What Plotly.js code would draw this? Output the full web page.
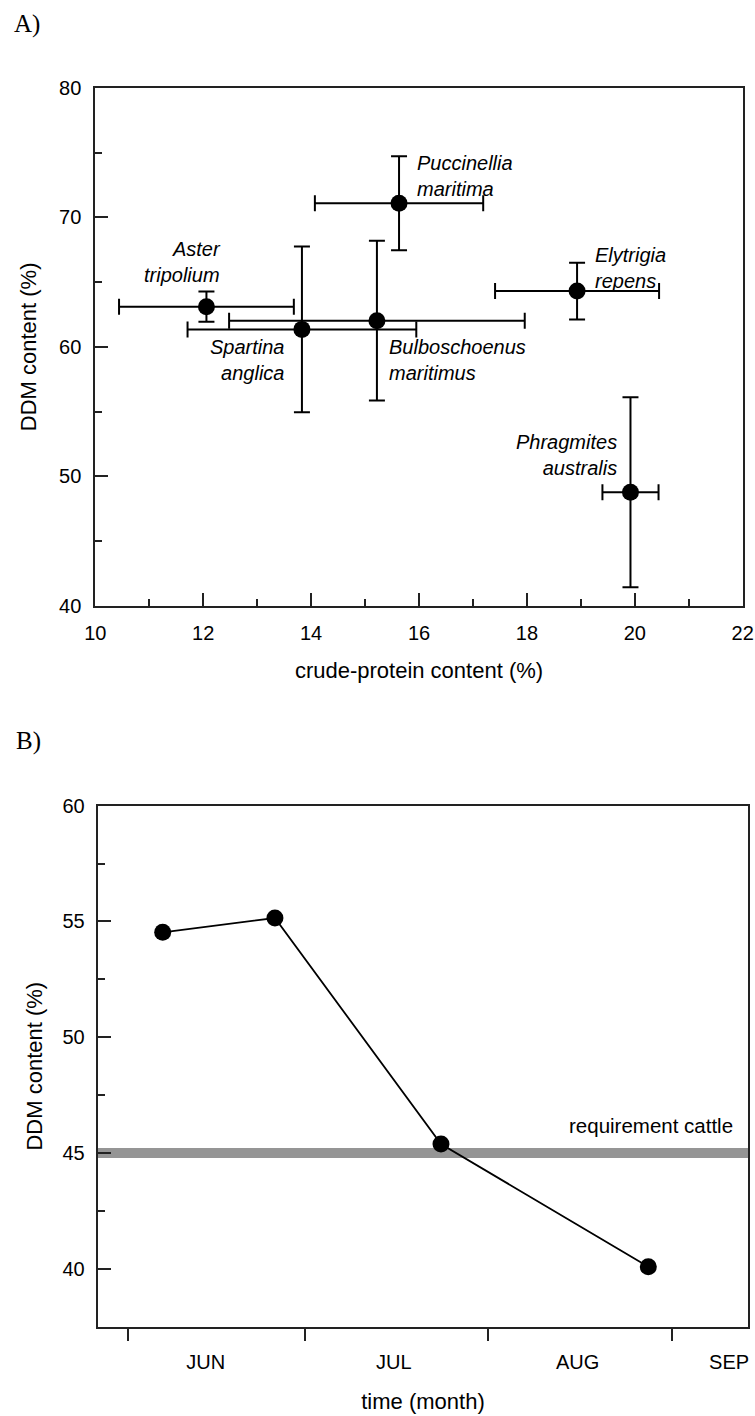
<!DOCTYPE html>
<html>
<head>
<meta charset="utf-8">
<script src="https://cdn.plot.ly/plotly-3.0.1.min.js"></script>
<style>html,body{margin:0;padding:0;background:#fff;}#chart{width:755px;height:1416px;}</style>
</head>
<body>
<div id="chart"></div>
<script>
// ---------- Panel A data ----------
const species = ["Aster<br>tripolium", "Spartina<br>anglica", "Bulboschoenus<br>maritimus", "Puccinellia<br>maritima", "Elytrigia<br>repens", "Phragmites<br>australis"];
const crudeProtein = [12.06, 13.83, 15.22, 15.63, 18.93, 19.92];
const crudeProteinErr = [1.62, 2.12, 2.74, 1.56, 1.52, 0.52];
const ddmA = [63.1, 61.35, 62.02, 71.1, 64.31, 48.76];
const ddmAErr = [1.17, 6.4, 6.17, 3.63, 2.19, 7.34];
// label anchor positions (data units) and alignment
const labelX = [12.37, 13.55, 15.40, 15.93, 19.23, 19.71];
const labelY = [66.55, 58.98, 59.02, 73.2, 66.09, 51.67];
const labelAlign = ["right", "right", "left", "left", "left", "right"];

// ---------- Panel B data ----------
const sampleDay = [5.92, 24.9, 52.98, 88.04]; // days after 1 June
const ddmB = [54.53, 55.15, 45.39, 40.09];
const monthStarts = [0, 30, 61, 92];
const monthLabelPos = [13.2, 45.0, 76.1, 101.7];
const monthLabels = ["JUN", "JUL", "AUG", "SEP"];
const requirementCattle = 45;

const FONT = "Liberation Sans, Arial, Helvetica, sans-serif";
const W = 755, H = 1416;
const LW = 2;

const traces = [
  {
    type: "scatter", mode: "markers", x: crudeProtein, y: ddmA,
    xaxis: "x", yaxis: "y",
    marker: {color: "#000", size: 17},
    error_x: {type: "data", array: crudeProteinErr, visible: true, color: "#000", thickness: LW, width: 8},
    error_y: {type: "data", array: ddmAErr, visible: true, color: "#000", thickness: LW, width: 8},
    hoverinfo: "skip", showlegend: false
  },
  {
    type: "scatter", mode: "lines+markers", x: sampleDay, y: ddmB,
    xaxis: "x2", yaxis: "y2",
    line: {color: "#000", width: 1.8},
    marker: {color: "#000", size: 17},
    hoverinfo: "skip", showlegend: false
  },
  {
    type: "scatter", mode: "markers", x: [monthStarts[0]], y: [ddmB[0]],
    xaxis: "x3", yaxis: "y2",
    marker: {opacity: 0, size: 1}, hoverinfo: "skip", showlegend: false
  }
];

const annotations = species.map((s, i) => ({
  xref: "x", yref: "y", x: labelX[i], y: labelY[i],
  text: "<i>" + s + "</i>", showarrow: false,
  xanchor: labelAlign[i], yanchor: "middle", align: labelAlign[i],
  font: {family: FONT, size: 20, color: "#000"}
}));
annotations.push({
  xref: "paper", yref: "paper", x: 12 / W, y: 1 - 24 / H, xanchor: "left", yanchor: "middle",
  text: "A)", showarrow: false, font: {family: "Liberation Serif, DejaVu Serif, serif", size: 25, color: "#000"}
});
annotations.push({
  xref: "paper", yref: "paper", x: 14 / W, y: 1 - 741 / H, xanchor: "left", yanchor: "middle",
  text: "B)", showarrow: false, font: {family: "Liberation Serif, DejaVu Serif, serif", size: 25, color: "#000"}
});
annotations.push({
  xref: "x2 domain", yref: "y2", x: (735 - 97.7) / (748.3 - 97.7), y: requirementCattle,
  yshift: 28, xanchor: "right", yanchor: "middle",
  text: "requirement cattle", showarrow: false, font: {family: FONT, size: 20.5, color: "#000"}
});

const axCommon = {
  showline: true, mirror: true, linecolor: "#222", linewidth: LW,
  showgrid: false, zeroline: false, ticks: "inside", ticklen: 13, tickwidth: LW, tickcolor: "#222",
  tickfont: {family: FONT, size: 20, color: "#000"}, fixedrange: true
};

const layout = {
  width: W, height: H,
  margin: {l: 0, r: 0, t: 0, b: 0},
  paper_bgcolor: "#fff", plot_bgcolor: "#fff",
  font: {family: FONT, color: "#000"},
  showlegend: false,
  xaxis: Object.assign({}, axCommon, {
    domain: [95.3 / W, 742.7 / W], anchor: "y", range: [10, 22],
    tick0: 10, dtick: 2, ticklabelstandoff: 8,
    minor: {dtick: 1, ticks: "inside", ticklen: 6.5, tickwidth: LW, tickcolor: "#222"},
    title: {text: "crude-protein content (%)", font: {family: FONT, size: 22, color: "#000"}, standoff: 20}
  }),
  yaxis: Object.assign({}, axCommon, {
    domain: [1 - 605.7 / H, 1 - 88 / H], anchor: "x", range: [40, 80],
    tick0: 40, dtick: 10, ticklabelstandoff: 8,
    minor: {dtick: 5, ticks: "inside", ticklen: 6.5, tickwidth: LW, tickcolor: "#222"},
    title: {text: "DDM content (%)", font: {family: FONT, size: 22, color: "#000"}, standoff: 16}
  }),
  xaxis2: Object.assign({}, axCommon, {
    domain: [97.7 / W, 748.3 / W], anchor: "y2", range: [-5.07, 104.95],
    tickmode: "array", tickvals: monthLabelPos, ticktext: monthLabels, ticks: "",
    ticklabelstandoff: 16,
    title: {text: "time (month)", font: {family: FONT, size: 22, color: "#000"}, standoff: 22}
  }),
  xaxis3: {
    overlaying: "x2", anchor: "y2", range: [-5.07, 104.95],
    tickmode: "array", tickvals: monthStarts, ticks: "outside", ticklen: 13, tickwidth: LW, tickcolor: "#222",
    showticklabels: false, showline: false, showgrid: false, zeroline: false, fixedrange: true
  },
  yaxis2: Object.assign({}, axCommon, {
    domain: [1 - 1326.7 / H, 1 - 805.7 / H], anchor: "x2", range: [37.5, 60],
    tick0: 40, dtick: 5, ticklabelstandoff: 7,
    minor: {tick0: 40, dtick: 2.5, ticks: "inside", ticklen: 7, tickwidth: LW, tickcolor: "#222"},
    title: {text: "DDM content (%)", font: {family: FONT, size: 22, color: "#000"}, standoff: 14}
  }),
  shapes: [{
    type: "line", xref: "x2 domain", yref: "y2", x0: 0, x1: 1, y0: requirementCattle, y1: requirementCattle,
    line: {color: "#959595", width: 10}, layer: "below"
  }],
  annotations: annotations
};

Plotly.newPlot("chart", traces, layout, {staticPlot: true, displayModeBar: false});
</script>
</body>
</html>
